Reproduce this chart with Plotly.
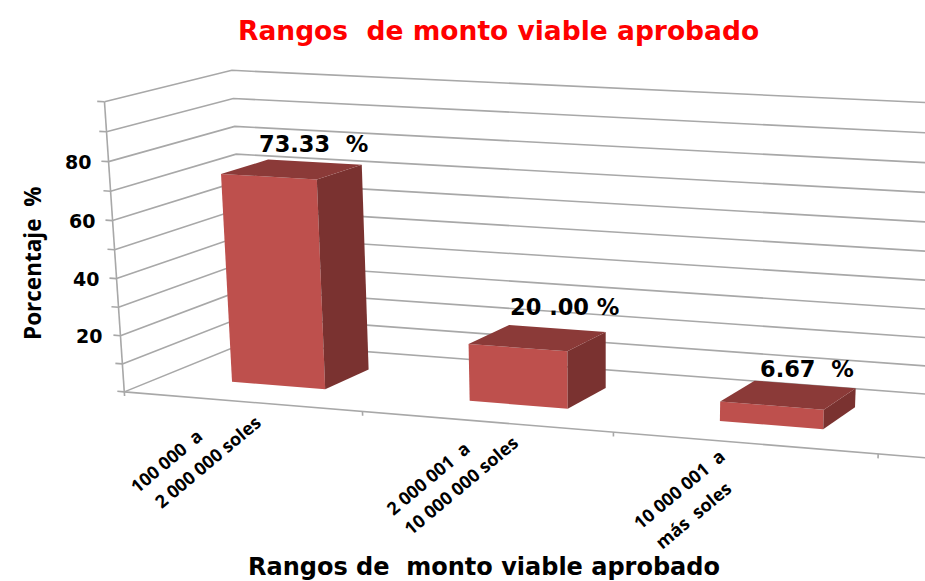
import numpy as np
import plotly.graph_objects as go

# Datos del grafico
CATEGORIES = [["100 000  a", "2 000 000 soles"], ["2 000 001  a", "10 000 000 soles"], ["10 000 001  a", "más  soles"]]
VALUES = [73.33, 20.00, 6.67]
VALUE_LABELS = ["73.33  %", "20 .00 %", "6.67  %"]
GRID_TICKS = list(range(0, 101, 10))
AXIS_LABELS = [20, 40, 60, 80]

TITLE = "Rangos  de monto viable aprobado"
X_TITLE = "Rangos de  monto viable aprobado"
Y_TITLE = "Porcentaje  %"

W, H = 925, 581
XEND = 3.6  # the floor runs past the right edge of the picture

# camera of the 3-D look: (category position, depth 0-1, value/100, 1) -> pixel
CAMERA = np.array([
    [228.97143, 138.74275, -23.95440, 124.29098],
    [9.12699, -25.18374, -294.20228, 391.88128],
    [-0.02543, 0.07065, -0.03954, 1.0],
])
BAR_FRONT, BAR_BACK, BAR_WIDTH = 0.30281, 0.68956, 0.39813

GRID = "#A8A8A8"
FRONT, SIDE, TOP = "#BE504D", "#7A3230", "#8B3A38"
BOLD_WIDE = "DejaVu Sans"
BOLD_NARROW = "Open Sans"


def project(pos, depth, value):
    x, y, w = CAMERA @ np.array([pos, depth, value / 100.0, 1.0])
    return x / w, y / w


def add_line(fig, points, width=1.6):
    xs, ys = zip(*points)
    fig.add_trace(go.Scatter(x=xs, y=ys, mode="lines", hoverinfo="skip",
                             line=dict(color=GRID, width=width), showlegend=False))


def add_face(fig, points, color):
    xs, ys = zip(*(points + points[:1]))
    fig.add_trace(go.Scatter(x=xs, y=ys, mode="lines", fill="toself", fillcolor=color,
                             line=dict(width=0), hoverinfo="skip", showlegend=False))


def text(label, x, y, size, family=BOLD_WIDE, color="black", angle=0):
    return dict(text="<b>" + label.replace("  ", "\u00a0\u00a0") + "</b>", x=x, y=y, xref="x", yref="y",
                showarrow=False, textangle=angle, font=dict(size=size, family=family, color=color))


fig = go.Figure()

# grid on the side wall and the back wall
for v in GRID_TICKS:
    add_line(fig, [project(0, 0, v), project(0, 1, v), project(XEND, 1, v)])

# value axis and floor edge with their ticks
add_line(fig, [project(0, 0, 0), project(0, 0, 100)])
add_line(fig, [project(0, 0, 0), project(XEND, 0, 0)])
for v in GRID_TICKS:
    add_line(fig, [project(0, 0, v), project(-0.03, 0, v)])
for pos in range(len(VALUES) + 1):
    add_line(fig, [project(pos, 0, 0), project(pos, 0, -1.5)])

# bars
for i, v in enumerate(VALUES):
    x0, x1 = i + 0.5 - BAR_WIDTH / 2, i + 0.5 + BAR_WIDTH / 2
    add_face(fig, [project(x0, BAR_FRONT, 0), project(x1, BAR_FRONT, 0),
                   project(x1, BAR_FRONT, v), project(x0, BAR_FRONT, v)], FRONT)
    add_face(fig, [project(x1, BAR_FRONT, 0), project(x1, BAR_BACK, 0),
                   project(x1, BAR_BACK, v), project(x1, BAR_FRONT, v)], SIDE)
    add_face(fig, [project(x0, BAR_FRONT, v), project(x1, BAR_FRONT, v),
                   project(x1, BAR_BACK, v), project(x0, BAR_BACK, v)], TOP)

annotations = [
    text(TITLE, 498, 30, 26.5, color="#FF0000"),
    text(X_TITLE, 484, 567, 24),
    text(Y_TITLE, 32, 264, 22.5, family=BOLD_NARROW, angle=-90),
]
for v in AXIS_LABELS:
    x, y = project(0, 0, v)
    annotations.append(text(str(v), x - 31, y, 19))
for label, (x, y) in zip(VALUE_LABELS, [(313, 144), (564, 307), (807, 369)]):
    annotations.append(text(label, x, y, 22.5))
# each category label has two lines, placed one by one
label_spots = [[(166, 461), (207, 462)], [(428, 478), (461, 485)], [(679, 489), (693, 515)]]
for lines, spots in zip(CATEGORIES, label_spots):
    for label, (x, y) in zip(lines, spots):
        annotations.append(text(label, x, y, 18, family=BOLD_NARROW, angle=-40))

fig.update_layout(
    width=W, height=H, margin=dict(l=0, r=0, t=0, b=0),
    paper_bgcolor="white", plot_bgcolor="white",
    xaxis=dict(range=[0, W], visible=False),
    yaxis=dict(range=[H, 0], visible=False),
    annotations=annotations,
)
fig.write_html("out.html", config=dict(displayModeBar=False), post_script="document.body.style.margin='0';")
